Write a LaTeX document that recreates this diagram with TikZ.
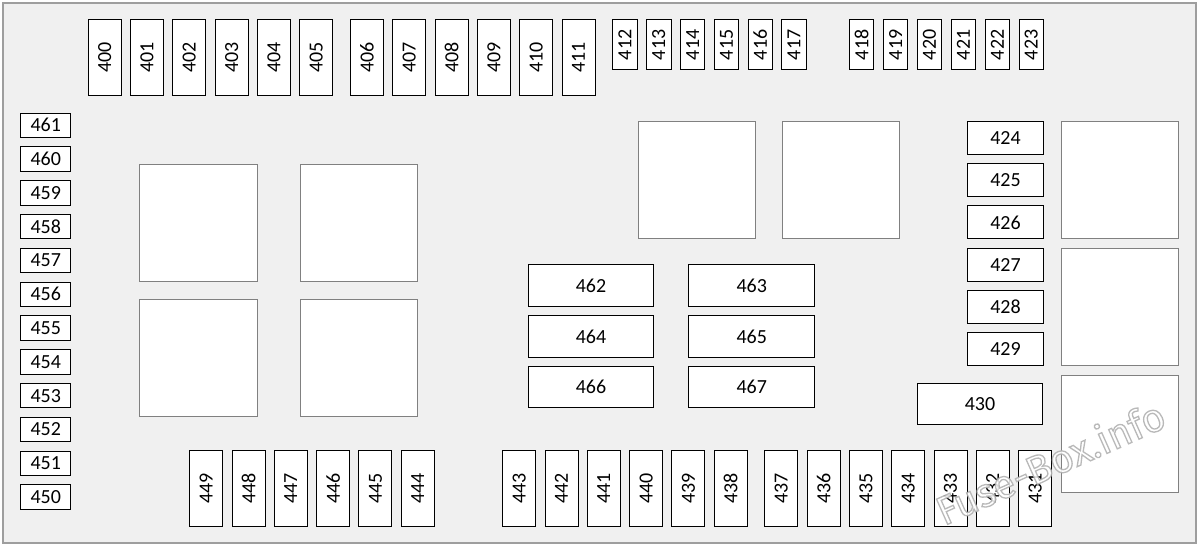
\documentclass[tikz,border=0pt]{standalone}
\usepackage{fontspec}
\setmainfont{Carlito}
\newfontfamily\wmfont{Fira Sans}
\usepackage{tikz}

\tikzset{
	fuse/.style={draw=black, fill=white, line width=1pt, inner sep=0pt, font=\fontsize{20}{24}\selectfont},
	vfuse/.style={fuse, rotate=90, minimum width=75.4pt, minimum height=33pt},
	sfuse/.style={fuse, rotate=90, minimum width=50pt, minimum height=24.4pt},
	hfuse/.style={fuse, minimum width=75.4pt, minimum height=33pt},
	lfuse/.style={fuse, minimum width=50pt, minimum height=24.5pt},
	wfuse/.style={fuse, minimum width=125.6pt, minimum height=41.5pt},
	relay/.style={draw=black!50, fill=white, line width=1pt, inner sep=0pt, minimum width=117.4pt, minimum height=117pt},
	wmark/.style={font=\wmfont\fontsize{40}{42}\selectfont, rotate=24, inner sep=0pt}
}
% outlined text: white fill, grey stroke
\newcommand{\outlinetext}[1]{\special{pdf:literal direct 2 Tr 1.3 w 0.68 G 1 g}#1\special{pdf:literal direct 0 Tr 0 G 0 g}}

\begin{document}
\begin{tikzpicture}[x=1pt, y=-1pt]
	\fill[white] (0,0) rectangle (1200,548);
	\useasboundingbox (0,0) rectangle (1200,548);
	\draw[black!38, line width=1.5pt, fill={rgb,255:red,240;green,240;blue,240}] (3,3) rectangle (1196,543);
	% top row
	\foreach \n [count=\i from 0] in {400,...,405}
		\node[vfuse] (f\n) at ({104.7+42.3*\i},57.5) {\n};
	\foreach \n [count=\i from 0] in {406,...,411}
		\node[vfuse] (f\n) at ({367+42.3*\i},57.5) {\n};
	\foreach \n [count=\i from 0] in {412,...,417}
		\node[sfuse] (f\n) at ({625+33.8*\i},44.8) {\n};
	\foreach \n [count=\i from 0] in {418,...,423}
		\node[sfuse] (f\n) at ({861.7+33.9*\i},44.8) {\n};
	% left column
	\foreach \n [count=\i from 0] in {461,460,...,450}
		\node[lfuse] (f\n) at (45.8,{125.3+33.8*\i}) {\n};
	% relays
	\node[relay] (r1) at (198.5,222.7) {};
	\node[relay] (r2) at (358.8,222.7) {};
	\node[relay] (r3) at (198.5,358) {};
	\node[relay] (r4) at (358.8,358) {};
	\node[relay] (r5) at (697.2,180.3) {};
	\node[relay] (r6) at (840.8,180.3) {};
	\node[relay] (r7) at (1120,180.3) {};
	\node[relay] (r8) at (1120,307.3) {};
	\node[relay] (r9) at (1120,434.2) {};
	% right column
	\foreach \n [count=\i from 0] in {424,...,429}
		\node[hfuse] (f\n) at (1005.5,{137.9+42.3*\i}) {\n};
	\node[wfuse] (f430) at (980,404) {430};
	% middle block
	\node[wfuse] (f462) at (591,285.7) {462};
	\node[wfuse] (f463) at (751.7,285.7) {463};
	\node[wfuse] (f464) at (591,336.5) {464};
	\node[wfuse] (f465) at (751.7,336.5) {465};
	\node[wfuse] (f466) at (591,387.2) {466};
	\node[wfuse] (f467) at (751.7,387.2) {467};
	% bottom row
	\foreach \n [count=\i from 0] in {449,448,...,444}
		\node[vfuse] (f\n) at ({206.2+42.3*\i},488.5) {\n};
	\foreach \n [count=\i from 0] in {443,442,...,438}
		\node[vfuse] (f\n) at ({519.2+42.3*\i},488.5) {\n};
	\foreach \n [count=\i from 0] in {437,436,...,431}
		\node[vfuse] (f\n) at ({781.3+42.3*\i},488.5) {\n};
	% watermark
	\node[wmark, opacity=0.85] (wm) at (1050,462) {\outlinetext{Fuse-Box.info}};
\end{tikzpicture}
\end{document}
